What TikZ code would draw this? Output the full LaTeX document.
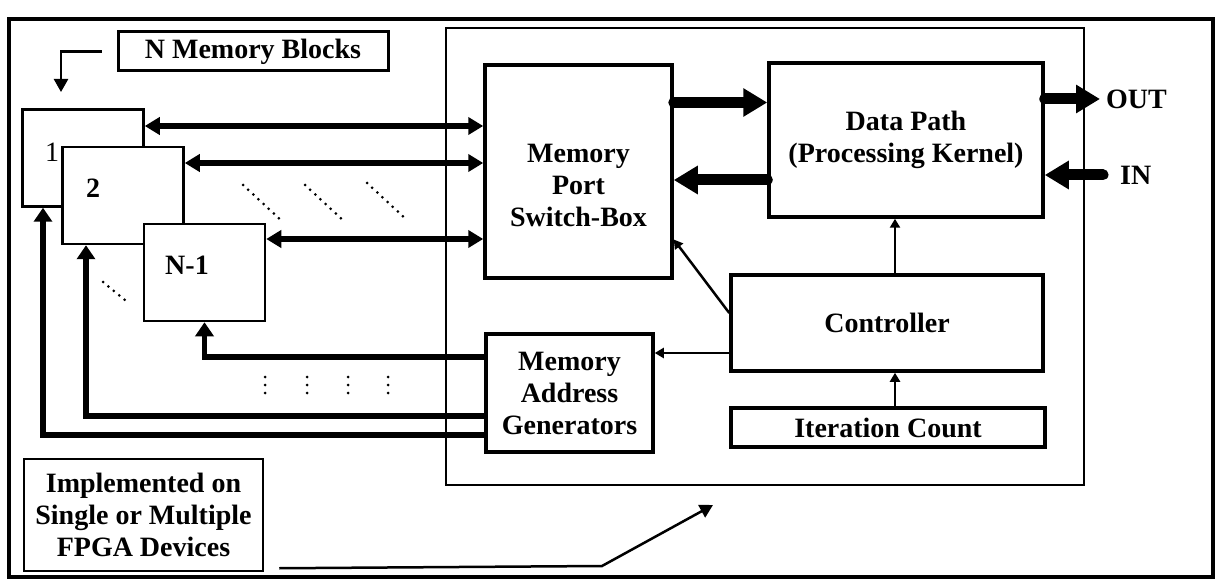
\documentclass[tikz,border=0pt]{standalone}
\usepackage{fontspec}
\setmainfont{Liberation Serif}
\usetikzlibrary{arrows.meta,positioning}

\begin{document}
\begin{tikzpicture}[x=1pt,y=-1pt,font=\fontsize{28}{32}\selectfont\bfseries,
  box/.style={draw,line width=3.5pt,inner sep=0pt,align=center},
  memblk/.style={draw,line width=2.5pt,fill=white,minimum width=121pt,minimum height=97pt,inner sep=0pt},
  memlink/.style={line width=6pt,{Triangle[length=15pt,width=17pt]}-{Triangle[length=15pt,width=17pt]}},
  bus/.style={line width=11pt,line cap=round,-{Triangle[length=24pt,width=27pt]}},
  addr/.style={line width=5.5pt,-{Triangle[length=14pt,width=18pt]}},
  ctl/.style={line width=2.5pt,-{Triangle[length=9pt,width=10pt]}},
  pointer/.style={line width=2.5pt,-{Triangle[length=13pt,width=14pt]}},
  dots/.style={line width=3pt,line cap=round,dash pattern=on 0pt off 7pt}]
  \useasboundingbox (0,0) rectangle (1220,585);
  \draw[line width=4pt] (9,19) rectangle (1213,577);

  \node[draw,line width=2pt,minimum width=638pt,minimum height=457pt,inner sep=0pt] (fpga) at (765,256.5) {};
  \node[box,line width=3pt,minimum width=270pt,minimum height=39pt] (title) at (253,51.5) {N Memory Blocks};
  \node[box,line width=2.5pt,minimum width=239pt,minimum height=112pt] (impl) at (143.5,515) {Implemented on\\Single or Multiple\\FPGA Devices};

  \foreach \name/\cx/\cy in {blkA/83/158,blkB/123/195.5,blkN/204.5/272.5} {
    \node[memblk] (\name) at (\cx,\cy) {};
  }
  \node[font=\fontsize{28}{32}\selectfont\mdseries] (lblA) at (52,152) {1};
  \node (lblB) at (93,188) {2};
  \node (lblN) at (187,265) {N-1};

  \node[box,minimum width=187pt,minimum height=213pt] (switch) at (578.5,171.5) {};
  \node[align=center] (switchtxt) at (578.5,185) {Memory\\Port\\Switch-Box};
  \node[box,minimum width=274pt,minimum height=154pt] (dpath) at (906,140) {Data Path\\(Processing Kernel)};
  \node[box,minimum width=312pt,minimum height=96pt] (ctrl) at (887,323) {Controller};
  \node[box,minimum width=314pt,minimum height=39pt] (iter) at (888,427.5) {Iteration Count};
  \node[box,minimum width=167pt,minimum height=118pt] (mag) at (569.5,393) {Memory\\Address\\Generators};
  \node[anchor=west,inner sep=6pt] (outlbl) at (1100,99) {OUT};
  \node[anchor=west,inner sep=2pt] (inlbl) at (1118,175) {IN};

  \draw[memlink] ([yshift=32pt]blkA.east) -- ([yshift=32pt]blkA.east -| switch.west);
  \draw[memlink] ([yshift=32.5pt]blkB.east) -- ([yshift=32.5pt]blkB.east -| switch.west);
  \draw[memlink] ([yshift=33.5pt]blkN.east) -- ([yshift=33.5pt]blkN.east -| switch.west);

  \draw[bus] ([yshift=69pt]switch.east) -- ([yshift=69pt]switch.east -| dpath.west);
  \draw[bus] ([yshift=-40pt]dpath.west) -- ([yshift=-40pt]dpath.west -| switch.east);
  \draw[bus] ([yshift=41pt]dpath.east) -- (outlbl.west);
  \draw[bus] ([xshift=-15pt]inlbl.west) -- (inlbl.west -| dpath.east);

  \draw[ctl] ([yshift=10pt]ctrl.west) -- ([yshift=-68pt]switch.east);
  \draw[ctl] ([yshift=-30pt]ctrl.west) -- ([yshift=-30pt]ctrl.west -| mag.east);
  \draw[ctl] ([xshift=7pt]iter.north) -- ([xshift=7pt]iter.north |- ctrl.south);
  \draw[ctl] ([xshift=8pt]ctrl.north) -- ([xshift=8pt]ctrl.north |- dpath.south);

  \draw[addr] ([yshift=36pt]mag.west) -| (blkN.south);
  \draw[addr] ([yshift=-23pt]mag.west) -| ([xshift=-37pt]blkB.south);
  \draw[addr] ([yshift=-42pt]mag.west) -| ([xshift=-40pt]blkA.south);

  \coordinate (blkTip) at (61,92);
  \coordinate (fpgaTip) at (713,505);
  \draw[pointer] ([xshift=-15pt]title.west) -| (blkTip);
  \draw[pointer] ([xshift=15pt,yshift=4pt]impl.south east) -- (602,566) -- (fpgaTip);

  \foreach \x/\y in {243/185,305/185,367/183} {
    \draw[dots] (\x,\y) -- ++(40,37);
  }
  \draw[dots] (103,282) -- (125,300);
  \foreach \x in {265,307,348,388} {
    \draw[dots,dash pattern=on 0pt off 8pt] (\x,377) -- (\x,393);
  }
\end{tikzpicture}
\end{document}
